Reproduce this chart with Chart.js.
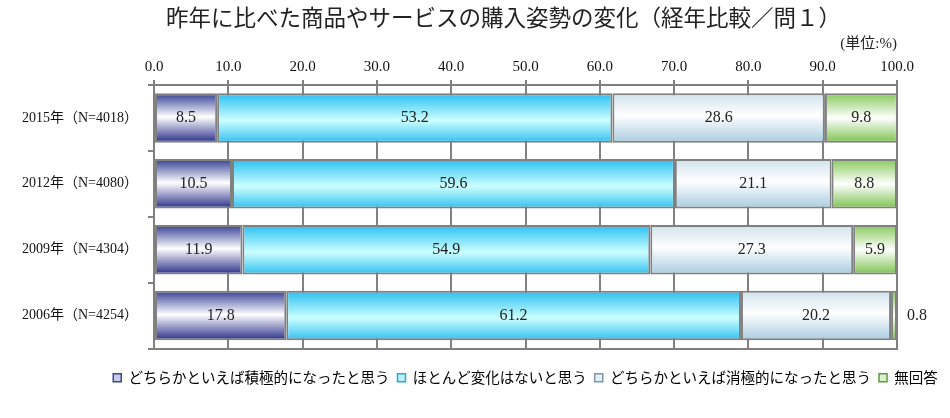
<!DOCTYPE html>
<html>
<head>
<meta charset="utf-8">
<script src="https://cdn.jsdelivr.net/npm/chart.js@4.4.1/dist/chart.umd.min.js"></script>
<style>
  html, body { margin: 0; padding: 0; background: #fff; }
  .wrap { width: 950px; height: 418px; }
</style>
</head>
<body>
<div class="wrap"><canvas id="chart"></canvas></div>
<script>
// -------------------- DATA -------------------
let Categories = ['2015年（N=4018）', '2012年（N=4080）', '2009年（N=4304）', '2006年（N=4254）'];
let SeriesNames = ['どちらかといえば積極的になったと思う', 'ほとんど変化はないと思う', 'どちらかといえば消極的になったと思う', '無回答'];
let Positive = [8.5, 10.5, 11.9, 17.8];
let NoChange = [53.2, 59.6, 54.9, 61.2];
let Negative = [28.6, 21.1, 27.3, 20.2];
let NoAnswer = [9.8, 8.8, 5.9, 0.8];
let AxisMin = 0;
let AxisMax = 100;
let AxisStep = 10;

// -------------------- STYLES -------------------
let GridColor = '#808080';
let SerifFont = '"Liberation Serif", "Noto Sans CJK JP", serif';
let GothicFont = '"Noto Sans CJK JP", sans-serif';
let BarPct = 0.75;

// gradient stops across the bar thickness (top -> bottom)
let FillStops = [
  [[0, '#343f96'], [0.48, '#ffffff'], [1, '#272d88']],
  [[0, '#28bff2'], [0.55, '#ccffff'], [1, '#30c0f0']],
  [[0, '#cfe2ec'], [0.45, '#ffffff'], [1, '#a8cce0']],
  [[0, '#86c95a'], [0.5, '#ffffff'], [1, '#7cc24e']]
];
let LegendFill = ['#c8cce4', '#bdeef8', '#e4eef4', '#dcefd0'];
let LegendEdge = ['#3a4690', '#2aa8d8', '#7a9aaa', '#5e9a3e'];

// -------------------- FUNCTIONS -------------------
function MakeFill(stops) {
  return function(ctx) {
    let y = ctx.chart.scales.y;
    if (!y || ctx.dataIndex === undefined) return stops[1][1];
    let band = Math.abs(y.getPixelForValue(1) - y.getPixelForValue(0));
    let center = y.getPixelForValue(ctx.dataIndex);
    let half = band * BarPct / 2;
    let g = ctx.chart.ctx.createLinearGradient(0, center - half, 0, center + half);
    stops.forEach(s => g.addColorStop(s[0], s[1]));
    return g;
  };
}

function MakeDataset(label, values, i) {
  return {
    label: label,
    data: values,
    backgroundColor: MakeFill(FillStops[i]),
    borderColor: GridColor,
    borderWidth: 2,
    borderSkipped: false,
    categoryPercentage: 1,
    barPercentage: BarPct
  };
}

// labels in the middle of each segment, outside when the segment is too narrow
let BarLabels = {
  id: 'barLabels',
  afterDatasetsDraw(chart) {
    let ctx = chart.ctx;
    ctx.save();
    ctx.font = '16px ' + SerifFont;
    ctx.fillStyle = '#222';
    ctx.textBaseline = 'middle';
    chart.data.datasets.forEach((ds, di) => {
      let meta = chart.getDatasetMeta(di);
      meta.data.forEach((bar, i) => {
        let text = ds.data[i].toFixed(1);
        let w = Math.abs(bar.x - bar.base);
        let tw = ctx.measureText(text).width;
        if (w > tw + 6) {
          ctx.textAlign = 'center';
          ctx.fillText(text, (bar.x + bar.base) / 2, bar.y);
        } else {
          ctx.textAlign = 'left';
          ctx.fillText(text, Math.max(bar.x, bar.base) + 10, bar.y);
        }
      });
    });
    ctx.restore();
  }
};

// move title and legend to line up with the plot like the original
let ShiftBlocks = {
  id: 'shiftBlocks',
  afterLayout(chart) {
    let area = chart.chartArea;
    let lg = chart.legend;
    let dx = (area.left + area.right) / 2 - (lg.left + lg.right) / 2;
    lg.left += dx;
    lg.right += dx;
    chart.titleBlock.left += 55;
    chart.titleBlock.right += 55;
  }
};

// -------------------- CHART -------------------
let Datasets = [
  MakeDataset(SeriesNames[0], Positive, 0),
  MakeDataset(SeriesNames[1], NoChange, 1),
  MakeDataset(SeriesNames[2], Negative, 2),
  MakeDataset(SeriesNames[3], NoAnswer, 3)
];

new Chart(document.getElementById('chart'), {
  type: 'bar',
  data: { labels: Categories, datasets: Datasets },
  plugins: [BarLabels, ShiftBlocks],
  options: {
    indexAxis: 'y',
    responsive: true,
    maintainAspectRatio: false,
    animation: false,
    devicePixelRatio: 1,
    layout: { padding: { left: 0, right: 53, top: 0, bottom: 23 } },
    scales: {
      x: {
        type: 'linear',
        position: 'top',
        stacked: true,
        min: AxisMin,
        max: AxisMax,
        ticks: {
          stepSize: AxisStep,
          padding: 4,
          maxRotation: 0,
          color: '#111',
          font: { family: SerifFont, size: 15 },
          callback: v => Number(v).toFixed(1)
        },
        grid: { color: GridColor, lineWidth: 2, tickLength: 5 },
        border: { display: true, color: GridColor, width: 2 }
      },
      x2: {
        type: 'linear',
        position: 'bottom',
        min: AxisMin,
        max: AxisMax,
        ticks: { display: false },
        grid: { display: false },
        border: { display: true, color: GridColor, width: 2 },
        afterFit: s => { s.height = 14; }
      },
      y: {
        stacked: true,
        ticks: {
          padding: 10,
          color: '#111',
          font: { family: SerifFont, size: 14 }
        },
        grid: { drawOnChartArea: false, drawTicks: true, tickLength: 6, color: GridColor, lineWidth: 2 },
        border: { display: true, color: GridColor, width: 2 },
        afterFit: s => { s.width = 154; }
      }
    },
    plugins: {
      title: {
        display: true,
        text: '昨年に比べた商品やサービスの購入姿勢の変化（経年比較／問１）',
        color: '#222',
        font: { family: GothicFont, size: 22.5, weight: 'normal' },
        padding: { top: 4, bottom: 3 }
      },
      subtitle: {
        display: true,
        text: '(単位:%)',
        align: 'end',
        color: '#222',
        font: { family: SerifFont, size: 15 },
        padding: { top: 1, bottom: 1 }
      },
      legend: {
        position: 'bottom',
        labels: {
          boxWidth: 8,
          boxHeight: 8,
          padding: 8,
          color: '#333',
          font: { family: GothicFont, size: 14.5 },
          generateLabels: chart => SeriesNames.map((name, i) => ({
            text: name,
            fillStyle: LegendFill[i],
            strokeStyle: LegendEdge[i],
            lineWidth: 1.5,
            hidden: false,
            datasetIndex: i
          }))
        }
      },
      tooltip: { enabled: false }
    }
  }
});
</script>
</body>
</html>
